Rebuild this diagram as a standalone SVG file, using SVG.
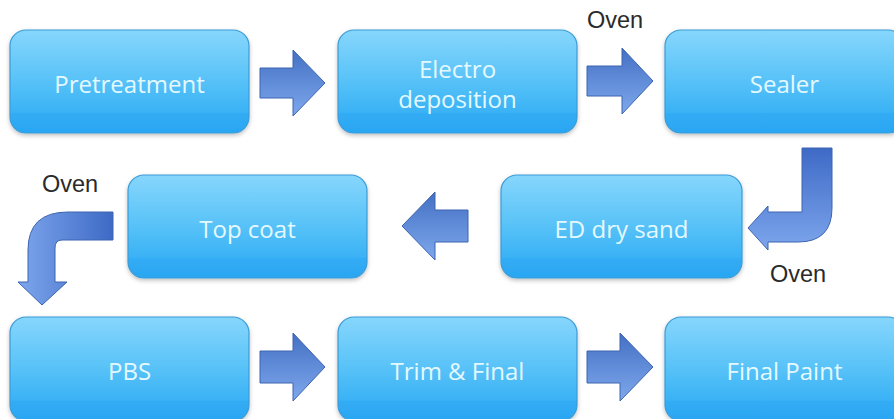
<svg xmlns="http://www.w3.org/2000/svg" width="894" height="419" viewBox="0 0 894 419">
<defs>
<linearGradient id="boxg" x1="0" y1="0" x2="0" y2="1">
<stop offset="0" stop-color="#86d6fc"/>
<stop offset="0.45" stop-color="#5cc4f8"/>
<stop offset="0.8" stop-color="#3ab2f5"/>
<stop offset="0.81" stop-color="#33acf4"/>
<stop offset="1" stop-color="#2aa6f2"/>
</linearGradient>
<linearGradient id="arrV" x1="0" y1="0" x2="0" y2="1">
<stop offset="0" stop-color="#4470c4"/>
<stop offset="1" stop-color="#7ea8ec"/>
</linearGradient>
<linearGradient id="arrBR" x1="0" y1="0" x2="0" y2="1">
<stop offset="0" stop-color="#3e6ac6"/>
<stop offset="1" stop-color="#7da6ec"/>
</linearGradient>
<linearGradient id="arrBL" x1="1" y1="0" x2="0" y2="0">
<stop offset="0" stop-color="#3e6ac6"/>
<stop offset="1" stop-color="#7da6ec"/>
</linearGradient>
<filter id="sh" x="-10%" y="-10%" width="120%" height="130%">
<feDropShadow dx="0" dy="2" stdDeviation="2" flood-color="#000" flood-opacity="0.25"/>
</filter>
</defs>
<style>
.box{fill:url(#boxg);stroke:#3b9bd6;stroke-width:1.2;filter:url(#sh)}
.lbl{font-family:"Open Sans","Noto Sans",sans-serif;font-size:24px;fill:#e4f9ff;text-anchor:middle}
.oven{font-family:"Liberation Sans",Arial,sans-serif;font-size:23.5px;fill:#2a2a2a}
.arr{stroke:#3d64b0;stroke-width:1;stroke-linejoin:miter}
</style>
<rect width="894" height="419" fill="#ffffff"/>

<g id="pretreatment">
<rect class="box" x="10" y="30" width="239" height="103" rx="16"/>
<text class="lbl" x="129.5" y="93">Pretreatment</text>
</g>
<g id="electro">
<rect class="box" x="338" y="30" width="239" height="103" rx="16"/>
<text class="lbl" x="457.5" y="78">Electro</text>
<text class="lbl" x="457.5" y="108">deposition</text>
</g>
<g id="sealer">
<rect class="box" x="665" y="30" width="239" height="103" rx="16"/>
<text class="lbl" x="784.5" y="93">Sealer</text>
</g>
<g id="topcoat">
<rect class="box" x="128" y="175" width="239" height="103" rx="16"/>
<text class="lbl" x="247.5" y="238">Top coat</text>
</g>
<g id="edsand">
<rect class="box" x="501" y="175" width="241" height="103" rx="16"/>
<text class="lbl" x="621.5" y="238">ED dry sand</text>
</g>
<g id="pbs">
<rect class="box" x="10" y="317" width="239" height="104" rx="16"/>
<text class="lbl" x="129.5" y="380">PBS</text>
</g>
<g id="trim">
<rect class="box" x="338" y="317" width="239" height="104" rx="16"/>
<text class="lbl" x="457.5" y="380">Trim &amp; Final</text>
</g>
<g id="finalpaint">
<rect class="box" x="665" y="317" width="239" height="104" rx="16"/>
<text class="lbl" x="784.5" y="380">Final Paint</text>
</g>

<g id="connectors">
<path class="arr" fill="url(#arrV)" d="M260,68 L293,68 L293,50 L325,83 L293,116 L293,98 L260,98 Z"/>
<path class="arr" fill="url(#arrV)" d="M587,66 L622,66 L622,48 L653,81 L622,114 L622,96 L587,96 Z"/>
<path class="arr" fill="url(#arrV)" d="M260,351 L293,351 L293,333 L325,367 L293,401 L293,383 L260,383 Z"/>
<path class="arr" fill="url(#arrV)" d="M587,351 L620,351 L620,333 L653,367 L620,401 L620,383 L587,383 Z"/>
<path class="arr" fill="url(#arrV)" d="M468,210 L435,210 L435,192 L402,226 L435,260 L435,242 L468,242 Z"/>
<path class="arr" fill="url(#arrBR)" d="M802,148 L832,148 L832,208 Q832,242 798,242 L768,242 L768,250 L748,228 L768,206 L768,212 L802,212 Z"/>
<path class="arr" fill="url(#arrBL)" d="M113,212 L113,240 L62,240 Q55,240 55,248 L55,282 L67,282 L42,305 L18,282 L28,282 L28,250 Q28,212 68,212 Z"/>
</g>

<text class="oven" x="587" y="28">Oven</text>
<text class="oven" x="770" y="282">Oven</text>
<text class="oven" x="42" y="192">Oven</text>
</svg>
